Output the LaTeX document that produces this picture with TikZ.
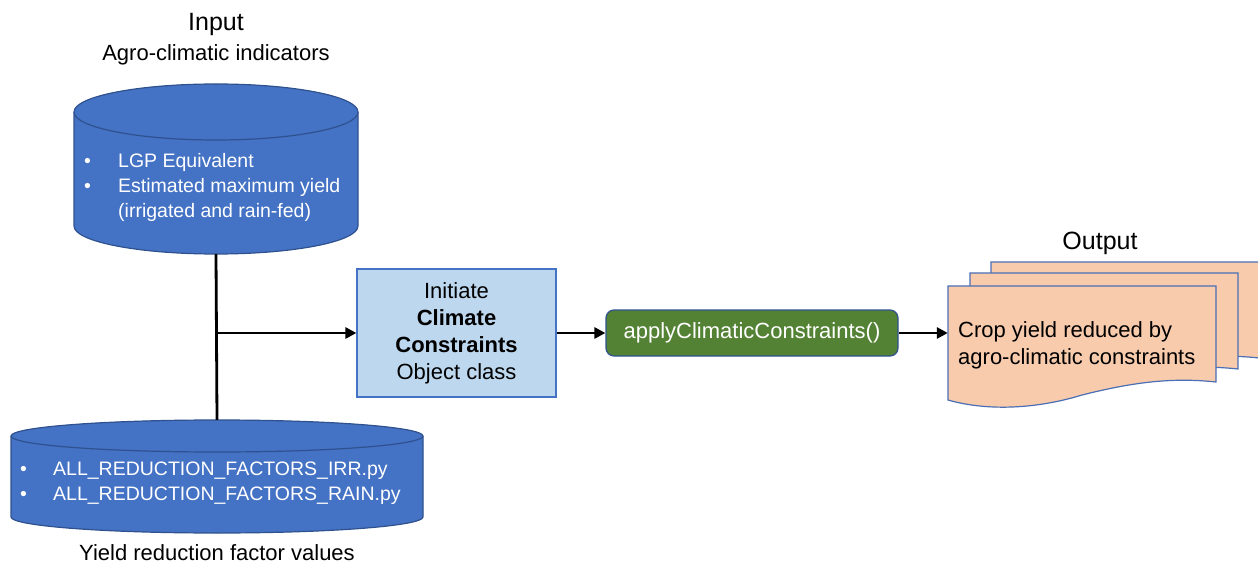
\documentclass[tikz,border=0pt]{standalone}
\usepackage{fontspec}
\setmainfont{Liberation Sans}
\usetikzlibrary{arrows.meta}
\definecolor{dbblue}{HTML}{4472C4}
\definecolor{dbedge}{HTML}{2F528F}
\definecolor{classfill}{HTML}{BDD7EE}
\definecolor{methfill}{HTML}{548235}
\definecolor{docfill}{HTML}{F8CBAD}
\definecolor{docedge}{HTML}{4A6FB5}

\begin{document}
\begin{tikzpicture}[x=1pt,y=1pt,
  lbl/.style={font=\fontsize{22}{27}\selectfont, inner sep=0pt},
  title/.style={font=\fontsize{25}{30}\selectfont, inner sep=0pt},
  bullets/.style={font=\fontsize{19.5}{25}\selectfont, text=white, align=left, inner sep=0pt},
  dbshape/.style={fill=dbblue, draw=dbedge, line width=1.2pt},
  holder/.style={inner sep=0pt, draw=none},
  classbox/.style={draw=dbblue, fill=classfill, line width=1.2pt, minimum width=199, minimum height=128,
    align=center, font=\fontsize{22}{27}\selectfont, inner sep=0pt},
  methbox/.style={draw=dbedge, fill=methfill, rounded corners=8pt, line width=1.2pt, minimum width=292,
    minimum height=46, text=white, font=\fontsize{22}{27}\selectfont, inner sep=0pt},
  docpage/.style={draw=docedge, fill=docfill, line width=1.2pt},
  link/.style={line width=2.8pt, black},
  arrow/.style={link, -{Triangle[length=11pt,width=11pt]}}
]
\useasboundingbox (0,0) rectangle (1258,563);

% ---- input database (cylinder) ----
\fill[dbblue] (74,451) -- (74,337) arc[start angle=180,end angle=360,x radius=142,y radius=28]
  -- (358,451) arc[start angle=0,end angle=180,x radius=142,y radius=28] -- cycle;
\draw[dbshape, fill=none] (74,451) -- (74,337) arc[start angle=180,end angle=360,x radius=142,y radius=28] -- (358,451);
\draw[dbshape] (216,451) ellipse[x radius=142,y radius=28];
\node[holder, minimum width=284, minimum height=170] (indb) at (216,394) {};
\node[bullets, anchor=west] (indbtext) at (84,376)
  {\makebox[34pt][l]{•}LGP Equivalent\\ \makebox[34pt][l]{•}Estimated maximum yield\\ \hspace*{34pt}(irrigated and rain-fed)};
\node[title] (intitle) at (216,539) {Input};
\node[lbl] (insub) at (216,508) {Agro-climatic indicators};

% ---- reduction factor database (cylinder) ----
\fill[dbblue] (11,127) -- (11,46) arc[start angle=180,end angle=360,x radius=206,y radius=16]
  -- (423,127) arc[start angle=0,end angle=180,x radius=206,y radius=16] -- cycle;
\draw[dbshape, fill=none] (11,127) -- (11,46) arc[start angle=180,end angle=360,x radius=206,y radius=16] -- (423,127);
\draw[dbshape] (217,127) ellipse[x radius=206,y radius=16];
\node[holder, minimum width=412, minimum height=113] (rfdb) at (217,86.5) {};
\node[bullets, anchor=west] (rfdbtext) at (20,80)
  {\makebox[33pt][l]{•}ALL\_REDUCTION\_FACTORS\_IRR.py\\ \makebox[33pt][l]{•}ALL\_REDUCTION\_FACTORS\_RAIN.py};
\node[lbl] (rfsub) at (217,10) {Yield reduction factor values};

% ---- class and method ----
\node[classbox] (cls) at (456.5,230) {Initiate\\ \textbf{Climate}\\ \textbf{Constraints}\\ Object class};
\node[methbox] (meth) at (752,230) {applyClimaticConstraints()};

% ---- output documents ----
\foreach \dx/\dy in {43/24, 22/13, 0/0} {
  \begin{scope}[shift={(\dx,\dy)}]
    \draw[docpage] (948,277) -- (1216,277) -- (1216,181)
      .. controls (1170,186) and (1130,180) .. (1082,168)
      .. controls (1040,155) and (990,151) .. (948,163) -- cycle;
  \end{scope}
}
\node[holder, minimum width=268, minimum height=114] (doc) at (1082,220) {};
\node[lbl, align=left, anchor=west] (doctext) at (958,218) {Crop yield reduced by\\ agro-climatic constraints};
\node[title] (outtitle) at (1100,320) {Output};

% ---- connectors ----
\draw[link] (indb.south) -- (rfdb.north);
\coordinate (branch) at (indb.south |- cls.west);
\draw[arrow] (branch) -- (cls.west);
\draw[arrow] (cls.east) -- (meth.west);
\draw[arrow] (meth.east) -- (meth.east -| doc.west);
\end{tikzpicture}
\end{document}
